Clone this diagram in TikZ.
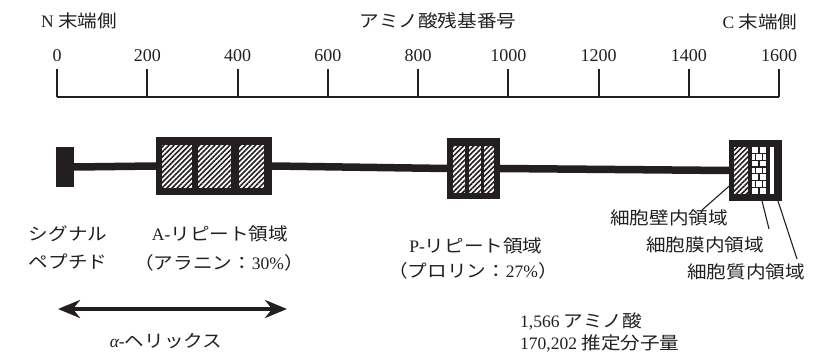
\documentclass[tikz,border=0pt]{standalone}
\usepackage{fontspec}
\setmainfont{Liberation Serif}
\newfontfamily\jp[FakeStretch=1.12]{Noto Sans CJK JP}
\usetikzlibrary{patterns.meta,arrows.meta}
\definecolor{ink}{HTML}{231F20}
\begin{document}
\begin{tikzpicture}[x=1pt,y=-1pt,
  lbl/.style={inner sep=0pt,text=ink,font=\fontsize{17.5}{20}\selectfont},
  num/.style={inner sep=0pt,text=ink,font=\fontsize{18}{20}\selectfont},
  axisline/.style={draw=ink,line width=2pt},
  barline/.style={draw=ink,line width=7.5pt},
  blk/.style={fill=ink,draw=none,inner sep=0pt},
  hatchbox/.style={fill=white,draw=none,inner sep=0pt,
    postaction={pattern={Lines[angle=45,distance=3.6pt,line width=1.6pt]},pattern color=ink}},
  whitebox/.style={fill=white,draw=none,inner sep=0pt},
  leader/.style={draw=ink,line width=1.1pt}
]
\useasboundingbox[fill=white] (0,0) rectangle (815,355);

% axis
\draw[axisline] (57,97.5) -- (779,97.5);
\foreach \v [count=\i from 0] in {0,200,...,1600} {
  \coordinate (t\i) at ({57+0.45125*\v},97.5);
  \draw[axisline] (t\i) -- ++(0,-28.5);
  \node[num] (n\i) at ({57+0.45125*\v},56) {\v};
}
\node[lbl] (nterm) at (79,21) {N {\jp 末端側}};
\node[lbl] (title) at (438,21) {\jp アミノ酸残基番号};
\node[lbl] (cterm) at (760,22) {C {\jp 末端側}};

% protein
\node[blk,minimum width=18pt,minimum height=40pt] (sig) at (65,167) {};
\node[blk,minimum width=116pt,minimum height=58pt] (abox) at (214,166) {};
\node[blk,minimum width=53pt,minimum height=61pt] (pbox) at (473.5,168.5) {};
\node[blk,minimum width=53pt,minimum height=61pt] (cbox) at (755.5,170.5) {};
\draw[barline] (sig.east) -- (abox.west);
\draw[barline] (abox.east) -- (pbox.west);
\draw[barline] (pbox.east) -- (cbox.west);

\node[hatchbox,minimum width=30pt,minimum height=43pt] (a1) at (177,166.5) {};
\node[hatchbox,minimum width=33pt,minimum height=43pt] (a2) at (214.5,166.5) {};
\node[hatchbox,minimum width=25pt,minimum height=43pt] (a3) at (251.5,166.5) {};

\node[hatchbox,minimum width=12pt,minimum height=47pt] (p1) at (459,169.5) {};
\node[hatchbox,minimum width=12pt,minimum height=47pt] (p2) at (475,169.5) {};
\node[hatchbox,minimum width=10pt,minimum height=47pt] (p3) at (489,169.5) {};

\node[hatchbox,minimum width=14pt,minimum height=47pt] (c1) at (741,170.5) {};
\node[whitebox,minimum width=14pt,minimum height=47pt] (c2) at (759,170.5) {};
\node[whitebox,minimum width=4pt,minimum height=47pt] (c3) at (772,170.5) {};
% bricks
\foreach \k in {1,...,6} {
  \draw[draw=ink,line width=1.3pt] (752,{147+6.7*\k}) -- (766,{147+6.7*\k});
}
\foreach \k in {0,2,4,6} {
  \draw[draw=ink,line width=1.3pt] (759,{147+6.7*\k}) -- (759,{147+6.7*(\k+1)});
}
\foreach \k in {1,3,5} {
  \draw[draw=ink,line width=1.3pt] (755.5,{147+6.7*\k}) -- (755.5,{147+6.7*(\k+1)});
  \draw[draw=ink,line width=1.3pt] (762.5,{147+6.7*\k}) -- (762.5,{147+6.7*(\k+1)});
}

% region labels
\node[lbl] (sig1) at (68,234) {\jp シグナル};
\node[lbl] (sig2) at (68,262) {\jp ペプチド};
\node[lbl] (arep1) at (220,234) {A-{\jp リピート領域}};
\node[lbl] (arep2) at (219,263) {{\jp （アラニン：}30\%{\jp ）}};
\node[lbl] (prep1) at (476,246) {P-{\jp リピート領域}};
\node[lbl] (prep2) at (473,271) {{\jp （プロリン：}27\%{\jp ）}};
\node[lbl,anchor=east] (cw) at (728,218) {\jp 細胞壁内領域};
\node[lbl,anchor=east] (cm) at (764,245) {\jp 細胞膜内領域};
\node[lbl,anchor=east] (cc) at (805,272) {\jp 細胞質内領域};

% leaders
\coordinate (l1a) at (735,181);
\coordinate (l1b) at (702,210);
\coordinate (l2a) at (762,201);
\coordinate (l2b) at (769,229);
\coordinate (l3a) at (778,201);
\coordinate (l3b) at (797,259);
\draw[leader] (l1a) -- (l1b);
\draw[leader] (l2a) -- (l2b);
\draw[leader] (l3a) -- (l3b);

% helix arrow
\coordinate (hl) at (58,309);
\coordinate (hr) at (287,309);
\draw[draw=ink,line width=3.5pt,
  {Stealth[length=22pt,width=18pt,inset=7pt]}-{Stealth[length=22pt,width=18pt,inset=7pt]}] (hl) -- (hr);
\node[lbl] (helix) at (166,341) {{\itshape α}-{\jp ヘリックス}};

\node[lbl,anchor=west] (aa) at (520,321) {1,566 {\jp アミノ酸}};
\node[lbl,anchor=west] (mw) at (520,343) {170,202 {\jp 推定分子量}};
\end{tikzpicture}
\end{document}
